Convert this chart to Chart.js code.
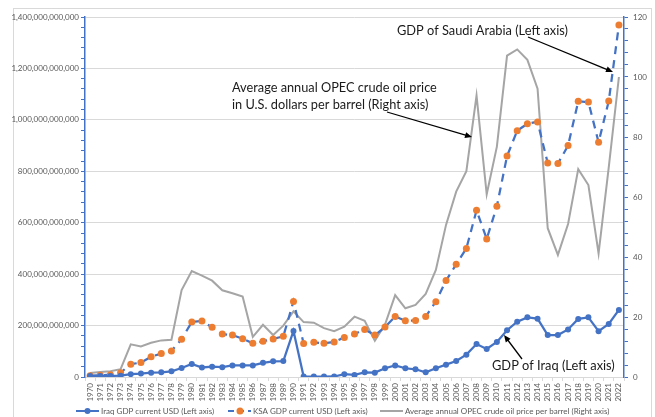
<!DOCTYPE html>
<html>
<head>
<meta charset="utf-8">
<script src="https://cdn.jsdelivr.net/npm/chart.js@4/dist/chart.umd.min.js"></script>
<style>
  html, body { margin: 0; padding: 0; background: #fff; }
  #wrap { width: 655px; height: 417px; position: relative; }
</style>
</head>
<body>
<div id="wrap"><canvas id="myChart" width="655" height="417"></canvas></div>
<script>
const years = ['1970','1971','1972','1973','1974','1975','1976','1977','1978','1979',
  '1980','1981','1982','1983','1984','1985','1986','1987','1988','1989',
  '1990','1991','1992','1993','1994','1995','1996','1997','1998','1999',
  '2000','2001','2002','2003','2004','2005','2006','2007','2008','2009',
  '2010','2011','2012','2013','2014','2015','2016','2017','2018','2019',
  '2020','2021','2022'];

// billions of USD
const iraqGdp = [3.5, 4, 4, 5, 11, 13.5, 17, 18, 22, 35,
  51, 37, 40, 38, 45, 45, 45, 55, 61, 62,
  179, 1.5, 1.5, 1.5, 2, 11, 8, 18, 17, 34,
  45, 34, 30, 18, 34, 48, 62, 87, 128, 109,
  136, 182, 215, 232, 227, 163, 163, 185, 226, 232,
  178, 206, 261];

const ksaGdp = [5, 7, 9, 17, 50, 56, 79, 91, 101, 147,
  214, 218, 193, 167, 163, 149, 131, 139, 148, 158,
  294, 130, 135, 131, 136, 154, 167, 185, 163, 194,
  235, 219, 220, 235, 293, 375, 438, 500, 648, 537,
  664, 859, 958, 985, 992, 832, 830, 900, 1072, 1069,
  913, 1073, 1369];

// USD per barrel
const oilPrice = [1.3, 1.7, 1.9, 2.6, 10.9, 10.2, 11.4, 12.2, 12.4, 29,
  35.3, 33.8, 32.1, 28.9, 27.9, 26.8, 13.4, 17.4, 14, 17.1,
  21.9, 18.3, 18.1, 16.3, 15.3, 16.8, 20.1, 18.7, 12.1, 17.5,
  27.3, 22.9, 24, 27.7, 35.7, 50.7, 61.8, 68.6, 93.8, 60.9,
  76.8, 107.1, 109.2, 105.7, 96.1, 49.6, 40.7, 51, 69.3, 64,
  41.2, 69.9, 100];

const seriesNames = ['Iraq GDP current USD (Left axis)', 'KSA GDP current USD (Left axis)',
  'Average annual OPEC crude oil price per barrel (Right axis)'];

const BLUE = '#4472C4', ORANGE = '#ED7D31', GRAY = '#A5A5A5', GRID = '#d9d9d9', TXT = '#595959';
const tickFont = { family: 'Lato', size: 8 };

function fitFont(c, text, width) {
  c.font = '20px Lato';
  return 20 * width / c.measureText(text).width;
}

function arrow(c, x1, y1, x2, y2) {
  const a = Math.atan2(y2 - y1, x2 - x1);
  c.strokeStyle = '#000'; c.fillStyle = '#000'; c.lineWidth = 1.3;
  c.beginPath(); c.moveTo(x1, y1); c.lineTo(x2 - 5 * Math.cos(a), y2 - 5 * Math.sin(a)); c.stroke();
  c.beginPath();
  c.moveTo(x2, y2);
  c.lineTo(x2 - 7 * Math.cos(a) + 3 * Math.sin(a), y2 - 7 * Math.sin(a) - 3 * Math.cos(a));
  c.lineTo(x2 - 7 * Math.cos(a) - 3 * Math.sin(a), y2 - 7 * Math.sin(a) + 3 * Math.cos(a));
  c.closePath(); c.fill();
}

const extras = {
  id: 'extras',
  beforeDraw(chart) {
    const c = chart.ctx;
    c.save();
    c.fillStyle = '#fff'; c.fillRect(0, 0, chart.width, chart.height);
    c.strokeStyle = GRID; c.lineWidth = 1;
    c.strokeRect(13.5, 8.5, 638, 420);
    c.restore();
  },
  afterDraw(chart) {
    const c = chart.ctx;
    c.save();
    // legend
    const ly = 411;
    c.font = '8px Lato'; c.fillStyle = TXT; c.textBaseline = 'middle'; c.textAlign = 'left';
    c.lineWidth = 2; c.strokeStyle = BLUE;
    c.beginPath(); c.moveTo(76, ly); c.lineTo(99, ly); c.stroke();
    c.fillStyle = BLUE; c.beginPath(); c.arc(87.5, ly, 3, 0, Math.PI * 2); c.fill();
    c.setLineDash([6, 4]);
    c.beginPath(); c.moveTo(228, ly); c.lineTo(251, ly); c.stroke();
    c.setLineDash([]);
    c.fillStyle = ORANGE; c.beginPath(); c.arc(240, ly, 3.5, 0, Math.PI * 2); c.fill();
    c.strokeStyle = GRAY;
    c.beginPath(); c.moveTo(380, ly); c.lineTo(403, ly); c.stroke();
    c.fillStyle = TXT;
    c.fillText(seriesNames[0], 101, ly);
    c.fillText(seriesNames[1], 253, ly);
    c.fillText(seriesNames[2], 405, ly);

    // annotations
    c.fillStyle = '#1a1a1a';
    let s = fitFont(c, 'GDP of Saudi Arabia (Left axis)', 171);
    c.font = s + 'px Lato';
    c.fillText('GDP of Saudi Arabia (Left axis)', 397, 31);
    s = fitFont(c, 'Average annual OPEC crude oil price', 205);
    c.font = s + 'px Lato';
    c.fillText('Average annual OPEC crude oil price', 232, 88);
    c.fillText('in U.S. dollars per barrel (Right axis)', 232, 105);
    s = fitFont(c, 'GDP of Iraq (Left axis)', 123);
    c.font = s + 'px Lato';
    c.fillText('GDP of Iraq (Left axis)', 492, 366);

    arrow(c, 528, 37, 613, 72);
    arrow(c, 387, 112, 472, 137);
    arrow(c, 522, 359, 504, 335);
    c.restore();
  }
};

const ctx = document.getElementById('myChart');

const myChart = new Chart(ctx, {
  type: 'line',
  data: {
    labels: years,
    datasets: [
      {
        label: seriesNames[0],
        data: iraqGdp.map(v => v * 1e9),
        yAxisID: 'y',
        borderColor: BLUE,
        backgroundColor: BLUE,
        borderWidth: 2.25,
        pointRadius: 3,
        pointBackgroundColor: BLUE,
        pointBorderWidth: 0,
        order: 1,
      },
      {
        label: seriesNames[1],
        data: ksaGdp.map(v => v * 1e9),
        yAxisID: 'y',
        borderColor: BLUE,
        borderWidth: 2.25,
        borderDash: [8, 6],
        pointRadius: 3.5,
        pointBackgroundColor: ORANGE,
        pointBorderWidth: 0,
        order: 2,
      },
      {
        label: seriesNames[2],
        data: oilPrice,
        yAxisID: 'y1',
        borderColor: GRAY,
        borderWidth: 2,
        pointRadius: 0,
        order: 3,
      },
    ]
  },
  options: {
    responsive: false,
    animation: false,
    layout: { padding: { top: 17, bottom: 6, left: 0, right: 0 } },
    plugins: { legend: { display: false }, tooltip: { enabled: false } },
    scales: {
      x: {
        offset: true,
        afterFit: s => { s.height = 34; },
        grid: { offset: true, drawOnChartArea: false, color: GRID, tickLength: 4 },
        border: { color: GRID },
        ticks: { font: tickFont, color: TXT, minRotation: 90, maxRotation: 90, autoSkip: false, padding: 2 },
      },
      y: {
        position: 'left',
        min: 0, max: 1.4e12,
        afterFit: s => { s.width = 85; },
        border: { color: BLUE, width: 1.5 },
        grid: {
          color: c => Math.round(c.tick.value / 1e9) % 200 === 0 ? GRID : 'rgba(0,0,0,0)',
          tickColor: BLUE, tickLength: 4,
        },
        ticks: {
          stepSize: 40e9, maxTicksLimit: 100, autoSkip: false,
          font: tickFont, color: TXT, padding: 2,
          callback: v => Math.round(v / 1e9) % 200 === 0 ? v.toLocaleString('en-US') : '',
        },
      },
      y1: {
        position: 'right',
        min: 0, max: 120,
        afterFit: s => { s.width = 31; },
        border: { color: BLUE, width: 1.5 },
        grid: { drawOnChartArea: false, tickColor: BLUE, tickLength: 4 },
        ticks: {
          stepSize: 4, maxTicksLimit: 100, autoSkip: false,
          font: tickFont, color: TXT, padding: 5,
          callback: v => v % 20 === 0 ? v : '',
        },
      },
    }
  },
  plugins: [extras]
});
</script>
</body>
</html>
